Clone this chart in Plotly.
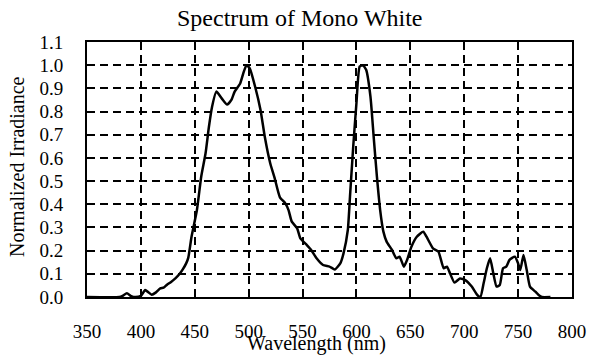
import plotly.graph_objects as go

# Normalized spectral irradiance of the mono-white source
wavelength = [350, 380, 383, 387, 391, 395, 400, 404, 407, 410, 414, 418, 421, 424, 428,
              432, 436, 439, 442, 444, 447, 452, 456, 460, 463, 466, 470, 475, 480, 484,
              487, 492, 495, 498, 501, 506, 511, 515, 520, 524, 529, 534, 537, 540, 545,
              548, 554, 558, 563, 569, 575, 580, 585, 588, 592, 594, 597, 600, 603, 606,
              609, 613, 616, 619, 622, 625, 628, 633, 637, 640, 644, 647, 651, 656, 662,
              665, 671, 676, 681, 684, 687, 691, 696, 701, 707, 712, 715, 718, 721, 724,
              727, 730, 733, 736, 739, 742, 747, 750, 752, 755, 758, 761, 766, 769, 772,
              780]
irradiance = [0.0, 0.0, 0.005, 0.016, 0.004, 0.0, 0.005, 0.03, 0.02, 0.01, 0.02, 0.037, 0.04,
              0.052, 0.065, 0.08, 0.1, 0.12, 0.145, 0.17, 0.26, 0.375, 0.52, 0.62, 0.73,
              0.82, 0.886, 0.857, 0.83, 0.85, 0.886, 0.92, 0.965, 1.0, 0.986, 0.907, 0.807,
              0.69, 0.577, 0.515, 0.43, 0.404, 0.375, 0.325, 0.296, 0.253, 0.224, 0.203,
              0.167, 0.138, 0.131, 0.119, 0.145, 0.188, 0.289, 0.433, 0.648, 0.836, 0.994,
              1.0, 0.98, 0.864, 0.69, 0.519, 0.375, 0.282, 0.239, 0.203, 0.167, 0.174,
              0.131, 0.16, 0.217, 0.26, 0.282, 0.26, 0.21, 0.196, 0.124, 0.131, 0.1, 0.062,
              0.08, 0.073, 0.045, 0.009, 0.0, 0.059, 0.124, 0.167, 0.102, 0.045, 0.052,
              0.124, 0.131, 0.16, 0.174, 0.145, 0.116, 0.181, 0.116, 0.045, 0.023, 0.009,
              0.0, 0.0]

x_ticks = [350, 400, 450, 500, 550, 600, 650, 700, 750, 800]
y_ticks = [0.0, 0.1, 0.2, 0.3, 0.4, 0.5, 0.6, 0.7, 0.8, 0.9, 1.0, 1.1]

FONT = "Liberation Serif"

fig = go.Figure()
fig.add_trace(go.Scatter(
    x=wavelength, y=irradiance, mode="lines",
    line=dict(color="black", width=2.5, shape="spline", smoothing=0.5),
    showlegend=False, hoverinfo="skip",
))

axis_common = dict(
    automargin=False,
    showline=True, linecolor="black", linewidth=2, mirror=True,
    showgrid=True, gridcolor="black", gridwidth=1.5, griddash="8px,5px",
    zeroline=False, ticks="inside", ticklen=4, tickcolor="black", tickwidth=1,
    tickfont=dict(family=FONT, size=19, color="black"),
)

fig.update_xaxes(range=[350, 800], tickvals=x_ticks, ticktext=[str(v) for v in x_ticks],
                 ticklabelstandoff=16, **axis_common)
fig.update_yaxes(range=[0, 1.1], tickvals=y_ticks, ticktext=[f"{v:.1f}" for v in y_ticks],
                 ticklabelstandoff=18, **axis_common)

fig.update_layout(
    width=592, height=358,
    margin=dict(l=87, r=20, t=42, b=61),
    paper_bgcolor="white", plot_bgcolor="white",
    font=dict(family=FONT, color="black"),
    annotations=[
        dict(text="Spectrum of Mono White", xref="paper", yref="paper",
             x=(300 - 87) / 485, y=1 + (42 - 18) / 255, xanchor="center", yanchor="middle",
             showarrow=False, font=dict(family=FONT, size=24, color="black")),
        dict(text="Wavelength (nm)", xref="paper", yref="paper",
             x=(316 - 87) / 485, y=-(343 - 297) / 255, xanchor="center", yanchor="middle",
             showarrow=False, font=dict(family=FONT, size=20, color="black")),
        dict(text="Normalized Irradiance", xref="paper", yref="paper",
             x=-(87 - 17) / 485, y=(297 - 167) / 255, xanchor="center", yanchor="middle",
             textangle=-90, showarrow=False, font=dict(family=FONT, size=20, color="black")),
    ],
)

fig.write_html("out.html")
